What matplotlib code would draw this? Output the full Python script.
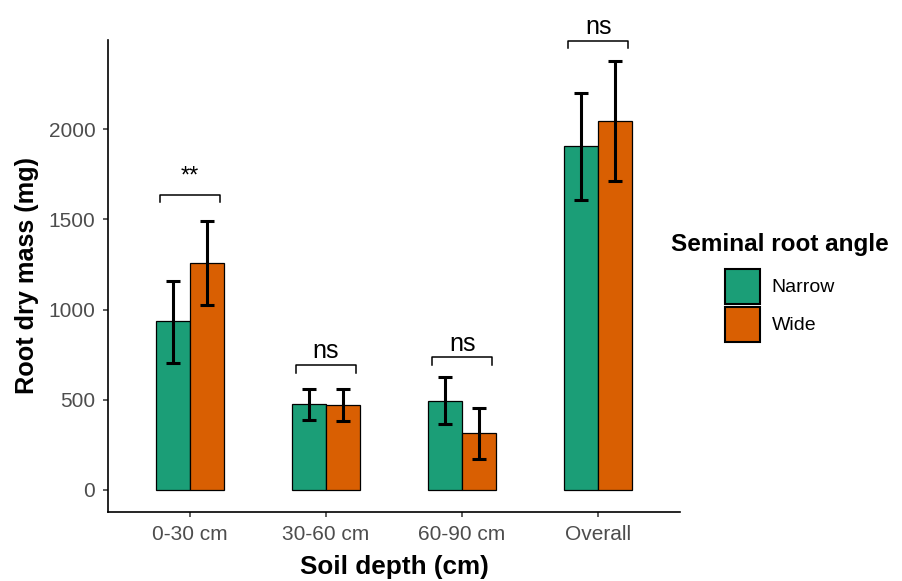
import matplotlib
matplotlib.use("Agg")
import matplotlib.pyplot as plt
from matplotlib.patches import Patch
import numpy as np

plt.rcParams['font.family'] = ['Liberation Sans', 'DejaVu Sans']

categories = ["0-30 cm", "30-60 cm", "60-90 cm", "Overall"]
groups = ["Narrow", "Wide"]
narrow_mean = [934, 473, 493, 1908]
narrow_low = [704, 386, 362, 1608]
narrow_high = [1157, 557, 625, 2204]
wide_mean = [1260, 469, 312, 2047]
wide_low = [1023, 382, 168, 1716]
wide_high = [1493, 557, 451, 2379]
sig_y = [1637, 690, 734, 2493]
sig_labels = ["**", "ns", "ns", "ns"]
yticks = [0, 500, 1000, 1500, 2000]

colors = {"Narrow": "#1B9E77", "Wide": "#D95F02"}

fig = plt.figure(figsize=(9.02, 5.81), dpi=100)
ax = fig.add_axes([108/902, 1-511.7/581, (680-108)/902, (511.7-40)/581])

x = np.arange(len(categories))
w = 0.25
series = [("Narrow", narrow_mean, narrow_low, narrow_high, -w/2),
          ("Wide", wide_mean, wide_low, wide_high, w/2)]
for name, m, lo, hi, off in series:
    m = np.array(m); lo = np.array(lo); hi = np.array(hi)
    ax.bar(x + off, m, width=w, color=colors[name], edgecolor="black",
           linewidth=0.9, zorder=2)
    ax.errorbar(x + off, m, yerr=[m - lo, hi - m], fmt="none", ecolor="black",
                elinewidth=2.2, capsize=5, capthick=2.2, zorder=3)

drop = 40
for xi, yv, lab in zip(x, sig_y, sig_labels):
    ax.plot([xi - 0.22, xi - 0.22, xi + 0.22, xi + 0.22],
            [yv - drop, yv, yv, yv - drop], color="black", lw=1.1,
            clip_on=False, zorder=4)
    if lab == "**":
        ax.text(xi, yv + 70, lab, ha="center", va="baseline", fontsize=17,
                color="black", clip_on=False)
    else:
        ax.text(xi, yv + 38, lab, ha="center", va="baseline", fontsize=18,
                color="black", clip_on=False)

ax.set_xlim(-0.6, 3.6)
ax.set_ylim(-123, 2497)
ax.set_xticks(x)
ax.set_xticklabels(categories)
ax.set_yticks(yticks)
ax.tick_params(axis="both", labelsize=15, labelcolor="#4D4D4D", color="#333333",
               length=3.6, width=1.1)
ax.tick_params(axis="x", pad=6)
ax.tick_params(axis="y", pad=5.5)
for s in ["top", "right"]:
    ax.spines[s].set_visible(False)
for s in ["left", "bottom"]:
    ax.spines[s].set_linewidth(1.2)
    ax.spines[s].set_color("black")

ax.set_xlabel("Soil depth (cm)", fontsize=18.8, fontweight="bold", labelpad=8)
ax.set_ylabel("Root dry mass (mg)", fontsize=18.2, fontweight="bold", labelpad=7)

handles = [Patch(facecolor=colors[g], edgecolor="black", linewidth=1.5) for g in groups]
leg = fig.legend(handles, groups, loc="upper left",
                 bbox_to_anchor=(671/902, 1-233/581), frameon=False,
                 title="Seminal root angle", fontsize=14,
                 title_fontproperties={"size": 17.5, "weight": "bold"},
                 handlelength=1.8, handleheight=2.4, labelspacing=0.17,
                 handletextpad=0.6, borderpad=0, borderaxespad=0)
leg._legend_box.align = "center"
leg._legend_box.sep = 9

fig.savefig("out.png", dpi=100)
